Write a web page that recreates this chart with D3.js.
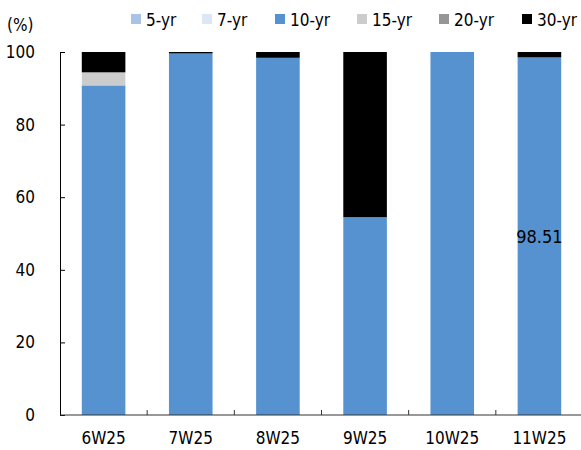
<!DOCTYPE html>
<html>
<head>
<meta charset="utf-8">
<script src="https://cdn.jsdelivr.net/npm/d3@7"></script>
<style>
  html, body { margin: 0; padding: 0; background: #fff; }
  svg { display: block; }
  text { font-family: 'DejaVu Sans Condensed', 'DejaVu Sans', sans-serif; fill: #000; }
</style>
</head>
<body>
<svg id="chart" width="581" height="450"></svg>
<script>
// Weekly auction share by tenor (%)
const categories = ["6W25", "7W25", "8W25", "9W25", "10W25", "11W25"];
const seriesNames = ["5-yr", "7-yr", "10-yr", "15-yr", "20-yr", "30-yr"];
const seriesColors = ["#a9c3e7", "#dce6f5", "#5592cf", "#cccccc", "#969696", "#000000"];

const yr5  = [0, 0, 0, 0, 0, 0];
const yr7  = [0, 0, 0, 0, 0, 0];
const yr10 = [90.8, 99.6, 98.4, 54.5, 100, 98.51];
const yr15 = [3.6, 0, 0, 0, 0, 0];
const yr20 = [0, 0, 0, 0, 0, 0];
const yr30 = [5.6, 0.4, 1.6, 45.5, 0, 1.49];

// value labels shown inside the 10-yr segment (null = no label)
const yr10Labels = [null, null, null, null, null, "98.51"];

const yTicks = [0, 20, 40, 60, 80, 100];

const seriesValues = [yr5, yr7, yr10, yr15, yr20, yr30];
const rows = categories.map((c, i) => {
  const r = { cat: c };
  seriesNames.forEach((s, j) => { r[s] = seriesValues[j][i]; });
  return r;
});

const svg = d3.select("#chart");
const margin = { left: 60, right: -2, top: 52, bottom: 35 };
const W = 581, H = 450;

const x = d3.scaleBand()
  .domain(categories)
  .range([margin.left, W - margin.right])
  .paddingInner(0.5)
  .paddingOuter(0.25);

const y = d3.scaleLinear()
  .domain([0, 100])
  .range([H - margin.bottom, margin.top]);

const stack = d3.stack().keys(seriesNames);
const stacked = stack(rows);

const color = d3.scaleOrdinal().domain(seriesNames).range(seriesColors);

// stacked bars
svg.append("g")
  .selectAll("g")
  .data(stacked)
  .join("g")
  .attr("fill", d => color(d.key))
  .selectAll("rect")
  .data(d => d.filter(p => p[1] - p[0] > 0))
  .join("rect")
  .attr("x", d => x(d.data.cat))
  .attr("width", x.bandwidth())
  .attr("y", d => y(d[1]))
  .attr("height", d => y(d[0]) - y(d[1]));

// value label inside the 10-yr segment
const s10 = stacked.find(s => s.key === "10-yr");
svg.append("g")
  .selectAll("text")
  .data(s10.map((d, i) => ({ d, label: yr10Labels[i] })).filter(o => o.label))
  .join("text")
  .attr("x", o => x(o.d.data.cat) + x.bandwidth() / 2)
  .attr("y", o => (y(o.d[0]) + y(o.d[1])) / 2)
  .attr("text-anchor", "middle")
  .attr("dominant-baseline", "central")
  .attr("font-size", 18)
  .text(o => o.label);

// y axis
const yAxis = d3.axisLeft(y).tickValues(yTicks).tickSize(-5).tickPadding(25).tickSizeOuter(0);
const gy = svg.append("g")
  .attr("transform", `translate(${margin.left},0)`)
  .call(yAxis);
gy.select(".domain").attr("stroke", "#000");
gy.selectAll(".tick line").attr("stroke", "#000");
gy.selectAll(".tick text").attr("font-size", 17).attr("font-family", null);

// x axis with boundary ticks pointing upward
const gx = svg.append("g")
  .attr("transform", `translate(0,${y(0)})`);
gx.append("line")
  .attr("x1", margin.left).attr("x2", W)
  .attr("stroke", "#333");
const step = x.step();
const bounds = categories.slice(1).map(c => x(c) - (step - x.bandwidth()) / 2);
gx.selectAll("line.b")
  .data(bounds)
  .join("line")
  .attr("class", "b")
  .attr("x1", d => d).attr("x2", d => d)
  .attr("y1", 0).attr("y2", -5)
  .attr("stroke", "#333");
gx.selectAll("text")
  .data(categories)
  .join("text")
  .attr("x", d => x(d) + x.bandwidth() / 2)
  .attr("y", 29)
  .attr("text-anchor", "middle")
  .attr("font-size", 17)
  .text(d => d);

// unit label
svg.append("text")
  .attr("x", 7)
  .attr("y", 31)
  .attr("font-size", 17)
  .text("(%)");

// legend
const legendX = [131, 202, 275, 357, 439, 522];
const lg = svg.append("g")
  .selectAll("g")
  .data(seriesNames)
  .join("g")
  .attr("transform", (d, i) => `translate(${legendX[i]},0)`);
lg.append("rect")
  .attr("x", 0).attr("y", 14)
  .attr("width", 10).attr("height", 10)
  .attr("fill", d => color(d));
lg.append("text")
  .attr("x", 15).attr("y", 26)
  .attr("font-size", 17)
  .text(d => d);
</script>
</body>
</html>
